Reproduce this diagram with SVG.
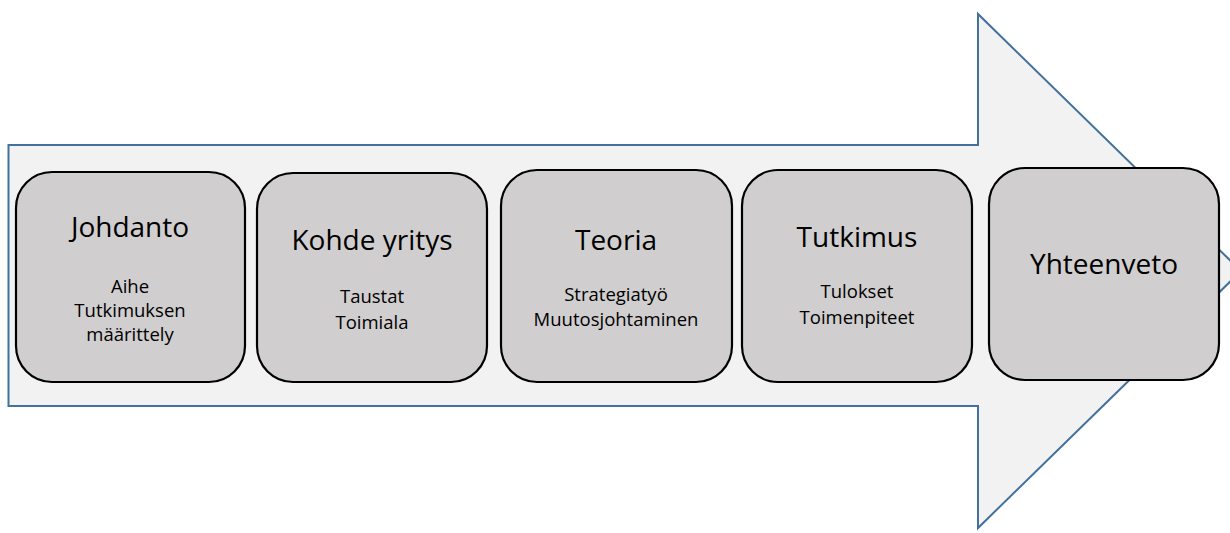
<svg xmlns="http://www.w3.org/2000/svg" width="1230" height="533" viewBox="0 0 1230 533">
  <style>
    .arrow { fill: #f2f2f2; stroke: #41719c; stroke-width: 2; }
    .box { fill: #d0cece; stroke: #000; stroke-width: 2.2; }
    .title { font-family: "Open Sans", "Liberation Sans", sans-serif; font-size: 28px; fill: #000; text-anchor: middle; }
    .sub { font-family: "Open Sans", "Liberation Sans", sans-serif; font-size: 18.5px; fill: #000; text-anchor: middle; }
  </style>
  <rect width="1230" height="533" fill="#ffffff"/>

  <!-- Block arrow running left to right behind the steps -->
  <g id="connectors">
    <path class="arrow" d="M8.5,145 H978 V14 L1241,271 L978,528 V406 H8.5 Z"/>
  </g>

  <g id="node-johdanto">
    <rect class="box" x="16" y="172" width="229" height="210" rx="36"/>
    <text class="title" x="130" y="237">Johdanto</text>
    <text class="sub" x="130" y="293">Aihe</text>
    <text class="sub" x="130" y="317">Tutkimuksen</text>
    <text class="sub" x="130" y="341">määrittely</text>
  </g>

  <g id="node-kohde">
    <rect class="box" x="257" y="173" width="230" height="209" rx="36"/>
    <text class="title" x="372" y="250">Kohde yritys</text>
    <text class="sub" x="372" y="303">Taustat</text>
    <text class="sub" x="372" y="329">Toimiala</text>
  </g>

  <g id="node-teoria">
    <rect class="box" x="501" y="170" width="231" height="212" rx="36"/>
    <text class="title" x="616" y="250">Teoria</text>
    <text class="sub" x="616" y="301">Strategiatyö</text>
    <text class="sub" x="616" y="326">Muutosjohtaminen</text>
  </g>

  <g id="node-tutkimus">
    <rect class="box" x="742" y="170" width="230" height="212" rx="36"/>
    <text class="title" x="857" y="247">Tutkimus</text>
    <text class="sub" x="857" y="298">Tulokset</text>
    <text class="sub" x="857" y="324">Toimenpiteet</text>
  </g>

  <g id="node-yhteenveto">
    <rect class="box" x="989" y="168" width="230" height="212" rx="36"/>
    <text class="title" x="1104" y="274">Yhteenveto</text>
  </g>
</svg>
